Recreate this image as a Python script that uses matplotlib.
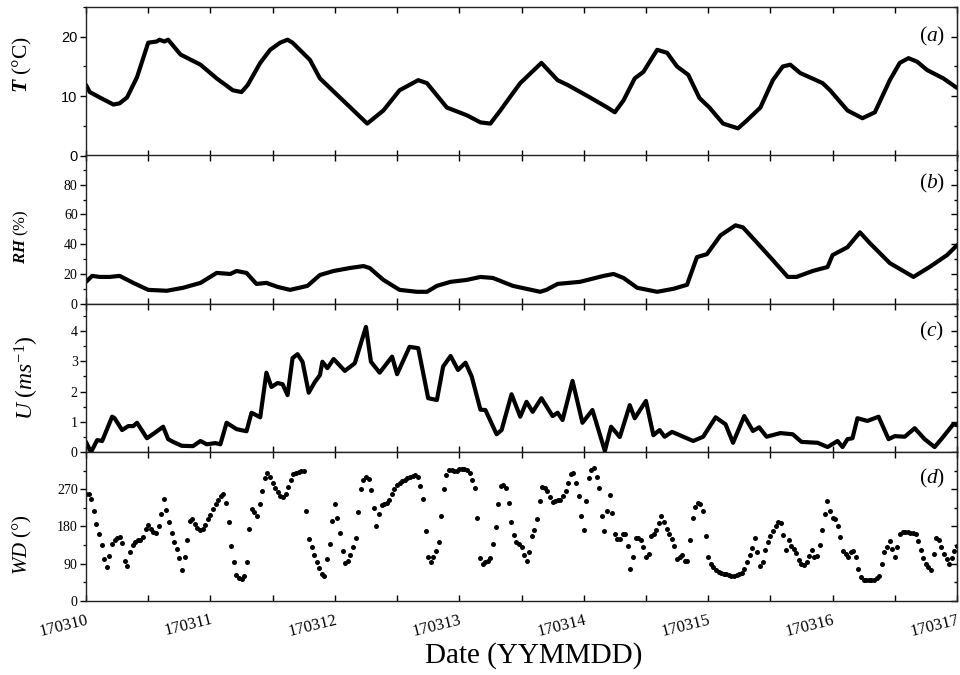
import numpy as np
import matplotlib
matplotlib.use("Agg")
import matplotlib.pyplot as plt
from matplotlib.ticker import MultipleLocator, FixedLocator

plt.rcParams['font.family'] = ['Liberation Serif', 'DejaVu Serif']
plt.rcParams['mathtext.fontset'] = 'custom'
plt.rcParams['mathtext.rm'] = 'Liberation Serif'
plt.rcParams['mathtext.it'] = 'Liberation Serif:italic'
plt.rcParams['mathtext.bf'] = 'Liberation Serif:bold'
plt.rcParams['mathtext.bfit'] = 'Liberation Serif:italic:bold'

# ---------------- data (days since 170310 00:00) ----------------
date_labels = ['170310', '170311', '170312', '170313', '170314', '170315', '170316', '170317']

t_day = [0.00, 0.03, 0.11, 0.22, 0.27, 0.33, 0.41, 0.50, 0.57, 0.59,
         0.63, 0.66, 0.76, 0.92, 1.05, 1.18, 1.25, 1.30, 1.40, 1.48,
         1.56, 1.62, 1.66, 1.80, 1.88, 2.02, 2.15, 2.26, 2.39, 2.52,
         2.67, 2.74, 2.90, 3.06, 3.17, 3.25, 3.33, 3.43, 3.49, 3.66,
         3.79, 3.87, 4.05, 4.19, 4.25, 4.32, 4.41, 4.48, 4.59, 4.67,
         4.75, 4.84, 4.93, 5.01, 5.12, 5.24, 5.31, 5.42, 5.52, 5.60,
         5.66, 5.74, 5.92, 5.98, 6.12, 6.24, 6.34, 6.46, 6.54, 6.61,
         6.68, 6.76, 6.89, 7.00]
t_val = [11.9, 10.7, 9.8, 8.6, 8.8, 9.8, 13.2, 19.0, 19.2, 19.5,
         19.2, 19.5, 17.0, 15.3, 13.0, 11.0, 10.7, 11.9, 15.6, 17.8,
         19.0, 19.5, 19.0, 16.1, 13.0, 10.2, 7.6, 5.4, 7.6, 11.0,
         12.7, 12.2, 8.1, 6.8, 5.6, 5.4, 7.6, 10.5, 12.2, 15.6,
         12.7, 11.9, 9.8, 8.1, 7.3, 9.3, 13.0, 14.1, 17.8, 17.3,
         15.0, 13.6, 9.7, 8.1, 5.4, 4.6, 5.9, 8.1, 12.7, 15.0,
         15.3, 13.9, 12.2, 11.0, 7.6, 6.3, 7.3, 12.7, 15.6, 16.4,
         15.8, 14.4, 13.0, 11.4]

rh_day = [0.00, 0.05, 0.11, 0.19, 0.27, 0.38, 0.50, 0.65, 0.78, 0.92,
          1.05, 1.16, 1.21, 1.29, 1.37, 1.45, 1.54, 1.64, 1.78, 1.88,
          1.99, 2.12, 2.23, 2.28, 2.39, 2.52, 2.66, 2.74, 2.82, 2.93,
          3.06, 3.17, 3.27, 3.43, 3.65, 3.70, 3.79, 3.97, 4.16, 4.24,
          4.32, 4.43, 4.59, 4.72, 4.83, 4.91, 4.99, 5.10, 5.22, 5.28,
          5.39, 5.52, 5.64, 5.71, 5.84, 5.96, 6.00, 6.12, 6.22, 6.30,
          6.46, 6.65, 6.78, 6.92, 7.00]
rh_val = [14.7, 18.7, 18, 18, 18.7, 14, 9.3, 8.7, 10.7, 14,
          20.7, 20, 22, 20.7, 13.3, 14, 11.3, 9.3, 12, 19.3,
          22, 24, 25.3, 24, 16, 9.3, 8, 8, 12, 14.7,
          16, 18, 17.3, 12, 8, 9.3, 13.3, 14.7, 18.7, 20,
          17.3, 10.7, 8, 10, 12.7, 31.3, 33.3, 46, 52.7, 51.3,
          41.3, 29.3, 18, 18, 22, 24.7, 32.7, 38, 48, 40.7,
          27.3, 18, 24.7, 32.7, 39.3]

u_day = [0.00, 0.04, 0.09, 0.13, 0.21, 0.23, 0.29, 0.34, 0.38, 0.41,
         0.49, 0.55, 0.62, 0.66, 0.70, 0.77, 0.86, 0.92, 0.97, 1.04,
         1.08, 1.13, 1.21, 1.29, 1.33, 1.40, 1.45, 1.49, 1.54, 1.58,
         1.62, 1.66, 1.70, 1.74, 1.79, 1.84, 1.88, 1.90, 1.94, 1.99,
         2.08, 2.16, 2.25, 2.29, 2.36, 2.46, 2.50, 2.60, 2.67, 2.75,
         2.82, 2.87, 2.93, 2.99, 3.05, 3.10, 3.17, 3.21, 3.30, 3.34,
         3.42, 3.49, 3.54, 3.59, 3.66, 3.75, 3.79, 3.83, 3.91, 3.99,
         4.07, 4.17, 4.22, 4.29, 4.37, 4.41, 4.50, 4.56, 4.61, 4.65,
         4.71, 4.80, 4.88, 4.96, 5.06, 5.14, 5.20, 5.29, 5.36, 5.41,
         5.47, 5.58, 5.68, 5.75, 5.88, 5.96, 6.04, 6.08, 6.12, 6.16,
         6.20, 6.28, 6.37, 6.45, 6.50, 6.58, 6.66, 6.74, 6.82, 6.88,
         6.97, 7.00]
u_val = [0.34, 0.00, 0.40, 0.37, 1.17, 1.12, 0.73, 0.86, 0.86, 0.97,
         0.46, 0.63, 0.84, 0.43, 0.34, 0.21, 0.20, 0.37, 0.26, 0.30,
         0.26, 0.97, 0.76, 0.69, 1.30, 1.15, 2.62, 2.15, 2.28, 2.24,
         1.88, 3.10, 3.23, 2.98, 1.96, 2.32, 2.54, 2.98, 2.77, 3.07,
         2.68, 2.93, 4.13, 2.98, 2.62, 3.15, 2.57, 3.47, 3.43, 1.78,
         1.72, 2.82, 3.17, 2.71, 2.95, 2.49, 1.40, 1.39, 0.59, 0.73,
         1.91, 1.17, 1.66, 1.33, 1.78, 1.19, 1.30, 1.06, 2.35, 0.97,
         1.39, 0.04, 0.84, 0.50, 1.55, 1.12, 1.69, 0.56, 0.73, 0.51,
         0.67, 0.51, 0.37, 0.51, 1.15, 0.92, 0.31, 1.19, 0.70, 0.82,
         0.51, 0.63, 0.59, 0.34, 0.31, 0.17, 0.37, 0.17, 0.43, 0.46,
         1.12, 1.03, 1.17, 0.43, 0.53, 0.51, 0.79, 0.43, 0.17, 0.46,
         0.92, 0.89]

# wind direction, half-hourly samples, one list per day
wd_d0 = [258, 258, 246, 218, 186, 161, 134, 101, 81, 109, 138, 147, 151, 154, 140, 97,
         85, 117, 134, 142, 146, 146, 154, 173, 183, 173, 166, 165, 182, 209, 246, 220,
         190, 165, 142, 125, 103, 75, 105, 146, 193, 197, 186, 177, 171, 174, 183, 197]
wd_d1 = [208, 221, 233, 243, 253, 258, 237, 191, 133, 93, 63, 54, 52, 60, 93, 173,
         222, 215, 205, 233, 265, 298, 310, 299, 286, 274, 262, 254, 250, 258, 275, 293,
         306, 310, 312, 313, 313, 217, 150, 130, 111, 93, 78, 65, 61, 101, 137, 193]
wd_d2 = [233, 200, 165, 121, 91, 95, 111, 131, 151, 215, 271, 293, 300, 295, 269, 225,
         182, 209, 231, 234, 236, 245, 258, 271, 280, 285, 290, 293, 296, 299, 302, 305,
         300, 278, 246, 169, 106, 94, 105, 121, 141, 205, 271, 305, 317, 316, 314, 315]
wd_d3 = [318, 320, 320, 316, 308, 293, 274, 201, 103, 89, 93, 97, 103, 137, 178, 233,
         278, 280, 273, 237, 191, 159, 143, 137, 130, 111, 97, 117, 157, 171, 197, 242,
         275, 274, 266, 251, 238, 241, 245, 245, 254, 266, 284, 306, 308, 286, 253, 205]
wd_d4 = [170, 242, 297, 317, 321, 299, 273, 205, 169, 218, 257, 213, 161, 149, 149, 161,
         162, 133, 77, 106, 151, 151, 146, 129, 105, 113, 157, 162, 170, 189, 205, 191,
         173, 161, 149, 133, 101, 105, 111, 97, 97, 146, 201, 227, 237, 234, 217, 157]
wd_d5 = [106, 90, 81, 75, 70, 66, 65, 64, 62, 61, 59, 63, 65, 68, 77, 93,
         110, 127, 151, 117, 85, 93, 123, 143, 157, 169, 182, 190, 189, 159, 122, 146,
         133, 125, 116, 99, 88, 86, 93, 109, 123, 105, 109, 135, 170, 209, 241, 218]
wd_d6 = [201, 197, 181, 154, 121, 113, 106, 117, 121, 106, 77, 57, 50, 49, 49, 50,
         51, 54, 61, 89, 117, 131, 145, 125, 105, 129, 161, 167, 166, 166, 165, 165,
         162, 145, 122, 103, 89, 82, 74, 113, 151, 146, 131, 114, 102, 89, 103, 121, 133]

wd_val = np.array(wd_d0 + wd_d1 + wd_d2 + wd_d3 + wd_d4 + wd_d5 + wd_d6, dtype=float)
wd_day = np.arange(len(wd_val)) / 48.0

# ---------------- figure ----------------
W, H = 960, 675
fig = plt.figure(figsize=(W / 100, H / 100), dpi=100)

left = 86 / W
width = (957 - 86) / W
tops = [7, 155, 303.5, 452]
ph = 148.7

axes = []
for tp in tops:
    ax = fig.add_axes([left, 1 - (tp + ph) / H, width, ph / H])
    axes.append(ax)

lw = 3.0
axes[0].plot(t_day, t_val, color='black', lw=lw, solid_joinstyle='round', solid_capstyle='round')
axes[1].plot(rh_day, rh_val, color='black', lw=lw, solid_joinstyle='round', solid_capstyle='round')
axes[2].plot(u_day, u_val, color='black', lw=lw, solid_joinstyle='round', solid_capstyle='round')
axes[3].plot(wd_day, wd_val, 'o', color='black', markersize=3.6, markeredgewidth=0)

axes[0].set_ylim(0, 25)
axes[0].yaxis.set_major_locator(FixedLocator([0, 10, 20]))
axes[0].yaxis.set_minor_locator(FixedLocator([5, 15, 25]))

axes[1].set_ylim(0, 100)
axes[1].yaxis.set_major_locator(FixedLocator([0, 20, 40, 60, 80]))
axes[1].yaxis.set_minor_locator(FixedLocator([10, 30, 50, 70, 90]))

axes[2].set_ylim(0, 4.9)
axes[2].yaxis.set_major_locator(FixedLocator([0, 1, 2, 3, 4]))
axes[2].yaxis.set_minor_locator(FixedLocator([0.5, 1.5, 2.5, 3.5, 4.5]))

axes[3].set_ylim(0, 360)
axes[3].yaxis.set_major_locator(FixedLocator([0, 90, 180, 270]))
axes[3].yaxis.set_minor_locator(FixedLocator([45, 135, 225, 315]))

for i, ax in enumerate(axes):
    ax.set_xlim(0, 7)
    ax.xaxis.set_major_locator(MultipleLocator(1))
    ax.xaxis.set_minor_locator(MultipleLocator(0.5))
    for s in ax.spines.values():
        s.set_linewidth(1.0)
        s.set_color('#222222')
    ax.tick_params(axis='x', which='both', direction='in', top=True, bottom=True,
                   length=4, width=1.0)
    ax.tick_params(axis='y', which='major', direction='out', left=True, right=False,
                   length=4, width=1.0, pad=2)
    ax.tick_params(axis='y', which='minor', direction='out', left=True, right=False,
                   length=2.5, width=0.9)
    ax2 = ax.secondary_yaxis('right')
    ax2.set_yticks(ax.get_yticks(minor=False))
    ax2.set_yticks(ax.get_yticks(minor=True), minor=True)
    ax2.tick_params(which='both', direction='in', length=4, width=1.0, labelright=False)
    ax2.tick_params(which='minor', length=2.5)
    if i < 3:
        ax.tick_params(axis='x', labelbottom=False)
    if i == 0:
        for lab in ax.get_yticklabels():
            lab.set_fontfamily('Liberation Sans')
            lab.set_fontsize(10.5)
    else:
        for lab in ax.get_yticklabels():
            lab.set_fontsize(10)

axes[3].set_xticks(range(8))
axes[3].set_xticklabels(date_labels, rotation=14, ha='right', va='top',
                        rotation_mode='anchor', fontsize=12)
axes[3].tick_params(axis='x', pad=8)

# panel letters
for ax, letter, yy in zip(axes, ['a', 'b', 'c', 'd'], [0.80, 0.81, 0.81, 0.82]):
    ax.text(0.971, yy, '($\\mathit{' + letter + '}$)', transform=ax.transAxes,
            ha='center', va='center', fontsize=15.5)

# y labels
fig.text(22 / W, 1 - 65 / H, '$\\mathbfit{T}$ (°C)', rotation=90, ha='center', va='center', fontsize=15.5)
fig.text(21 / W, 1 - 237 / H, '$\\mathbfit{RH}$ (%)', rotation=90, ha='center', va='center', fontsize=12)
fig.text(27 / W, 1 - 378 / H, '$U\\ (ms^{-1})$', rotation=90, ha='center', va='center', fontsize=17)
fig.text(22 / W, 1 - 545 / H, '$WD$ (°)', rotation=90, ha='center', va='center', fontsize=15)

fig.text(534 / W, 1 - 656 / H, 'Date (YYMMDD)', ha='center', va='center', fontsize=21)

fig.savefig('out.png', dpi=100)
